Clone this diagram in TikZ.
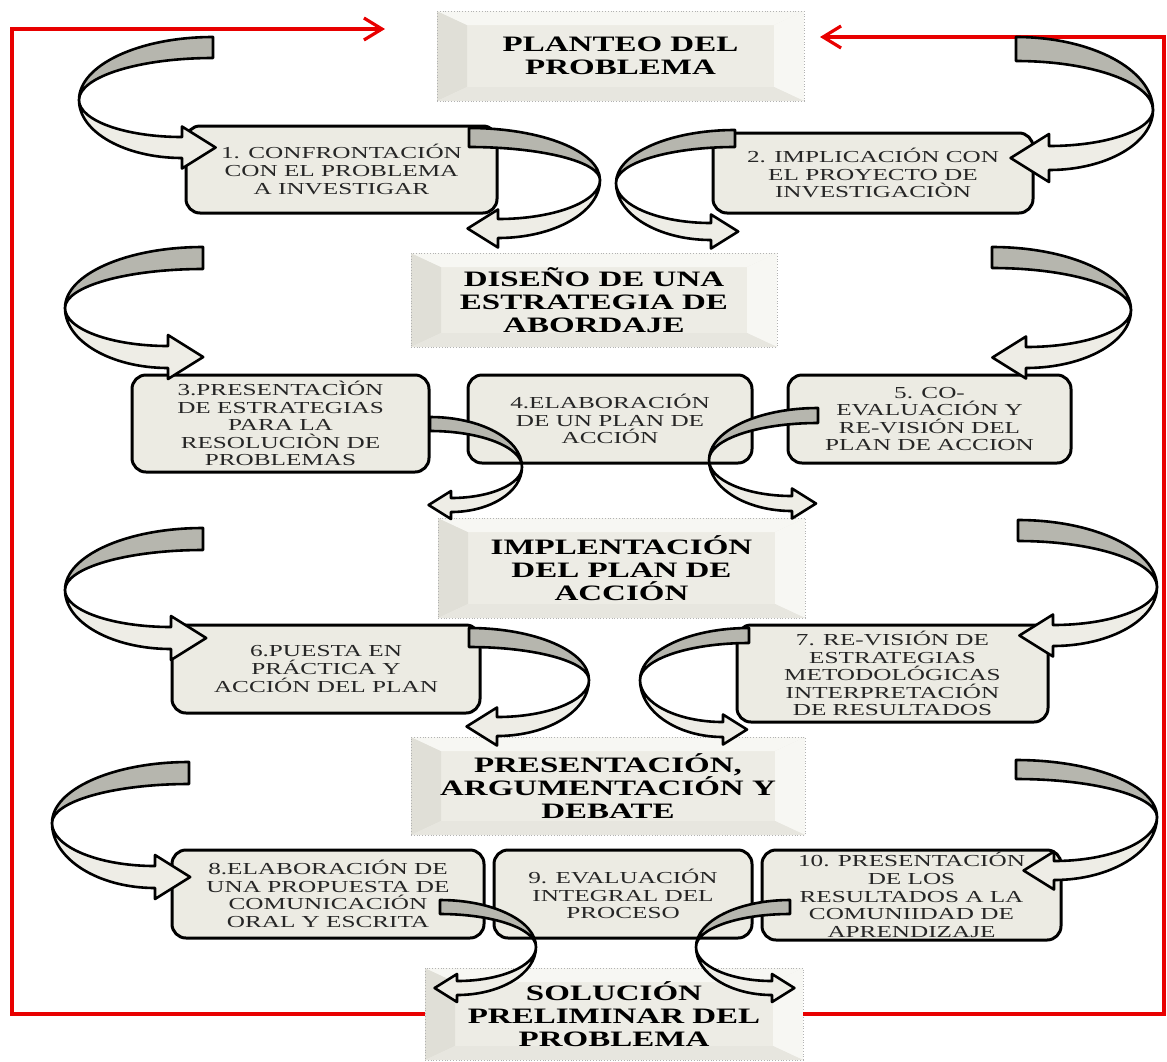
\documentclass[tikz,border=0pt]{standalone}
\usepackage{fontspec}
\setmainfont{Liberation Serif}[FakeStretch=1.5]
\usetikzlibrary{calc,arrows.meta}

\definecolor{boxfill}{RGB}{236,235,227}
\definecolor{ribgray}{RGB}{182,182,174}
\definecolor{ribpale}{RGB}{238,237,230}
\definecolor{hdrface}{RGB}{237,236,229}
\definecolor{bevdark}{RGB}{224,223,215}
\definecolor{bevlight}{RGB}{247,247,243}
\definecolor{bevmid}{RGB}{231,230,223}
\definecolor{fbred}{RGB}{232,0,0}

\tikzset{
  stage/.style={draw=black, line width=1.5pt, rounded corners=7pt, fill=boxfill, align=center,
    inner sep=1pt, text=black!85, font=\fontsize{8.4}{8.8}\selectfont},
  hdr/.style={draw=gray!60, densely dotted, thin, fill=hdrface, align=center, inner sep=1pt,
    font=\fontsize{11}{11.5}\selectfont\bfseries,
    path picture={
      \coordinate (bnw) at (path picture bounding box.north west);
      \coordinate (bne) at (path picture bounding box.north east);
      \coordinate (bsw) at (path picture bounding box.south west);
      \coordinate (bse) at (path picture bounding box.south east);
      \fill[bevdark] (bnw) -- (bsw) -- ($(bsw)+(30,-14)$) -- ($(bnw)+(30,14)$) -- cycle;
      \fill[bevlight] (bnw) -- (bne) -- ($(bne)+(-30,14)$) -- ($(bnw)+(30,14)$) -- cycle;
      \fill[bevlight] (bne) -- (bse) -- ($(bse)+(-30,-14)$) -- ($(bne)+(-30,14)$) -- cycle;
      \fill[bevmid] (bsw) -- (bse) -- ($(bse)+(-30,-14)$) -- ($(bsw)+(30,-14)$) -- cycle;}},
  ribback/.style={draw=black, line width=1.3pt, line join=round, fill=ribgray},
  ribfront/.style={draw=black, line width=1.3pt, line join=round, fill=ribpale},
  fb/.style={draw=fbred, line width=1.6pt, -{Straight Barb[length=9pt,width=11pt]}}
}

\newcommand{\ribbon}[8]{%
  \begin{scope}[shift={(#1,#2)},xscale=#3]
    \filldraw[ribback] (0,0) arc[start angle=180,end angle=270,x radius=#4,y radius=#5]
      -- ++(0,#6) arc[start angle=270,end angle=180,x radius=#4,y radius=#5-#6] -- cycle;
    \filldraw[ribfront] (0,0) arc[start angle=180,end angle=90,x radius=#7,y radius=#8]
      -- ++(0,{0.5*#6}) -- ({#7+1.6*#6},{#8-0.5*#6}) -- (#7,{#8-1.5*#6}) -- (#7,{#8-#6})
      arc[start angle=90,end angle=180,x radius=#7,y radius=#8-#6] -- cycle;
  \end{scope}}

\begin{document}
\begin{tikzpicture}[x=0.5pt,y=-0.5pt]
  \useasboundingbox (0,0) rectangle (1167,1061);

  \node[hdr, minimum width=183.5pt, minimum height=45pt] (plant) at (620.5,56) {PLANTEO DEL\\PROBLEMA};
  \node[hdr, minimum width=183pt, minimum height=47pt] (disen) at (594,300) {DISEÑO DE UNA\\ESTRATEGIA DE\\ABORDAJE};
  \node[hdr, minimum width=183.5pt, minimum height=50pt] (impl) at (621.5,568) {IMPLENTACIÓN\\DEL PLAN DE\\ACCIÓN};
  \node[hdr, minimum width=197pt, minimum height=49pt] (pres) at (608,786) {PRESENTACIÓN,\\ARGUMENTACIÓN Y\\DEBATE};
  \node[hdr, minimum width=189pt, minimum height=46pt] (sol) at (614,1014) {SOLUCIÓN\\PRELIMINAR DEL\\PROBLEMA};

  \node[stage, minimum width=155.5pt, minimum height=43.5pt] (s1) at (341.5,169.5) {1. CONFRONTACIÓN\\CON EL PROBLEMA\\A INVESTIGAR};
  \node[stage, minimum width=160pt, minimum height=40pt] (s2) at (873,173) {2. IMPLICACIÓN CON\\EL PROYECTO DE\\INVESTIGACIÒN};
  \node[stage, minimum width=148.5pt, minimum height=48.5pt] (s3) at (280.5,423.5) {3.PRESENTACÌÓN\\DE ESTRATEGIAS\\PARA LA\\RESOLUCIÒN DE\\PROBLEMAS};
  \node[stage, minimum width=142pt, minimum height=44pt] (s4) at (610,419) {4.ELABORACIÓN\\DE UN PLAN DE\\ACCIÓN};
  \node[stage, minimum width=141.5pt, minimum height=44pt] (s5) at (929.5,419) {5. CO-\\EVALUACIÓN Y\\RE-VISIÓN DEL\\PLAN DE ACCION};
  \node[stage, minimum width=154pt, minimum height=44pt] (s6) at (326,669) {6.PUESTA EN\\PRÁCTICA Y\\ACCIÓN DEL PLAN};
  \node[stage, minimum width=155.5pt, minimum height=48.5pt] (s7) at (892.5,673.5) {7. RE-VISIÓN DE\\ESTRATEGIAS\\METODOLÓGICAS\\INTERPRETACIÓN\\DE RESULTADOS};
  \node[stage, minimum width=156pt, minimum height=44pt] (s8) at (328,894) {8.ELABORACIÓN DE\\UNA PROPUESTA DE\\COMUNICACIÓN\\ORAL Y ESCRITA};
  \node[stage, minimum width=129pt, minimum height=44pt] (s9) at (623,894) {9. EVALUACIÓN\\INTEGRAL DEL\\PROCESO};
  \node[stage, minimum width=149.5pt, minimum height=45pt] (s10) at (911.5,895) {10. PRESENTACIÓN\\DE LOS\\RESULTADOS A LA\\COMUNIIDAD DE\\APRENDIZAJE};

  \coordinate (ltip) at (385,29);
  \coordinate (rtip) at (820,37);
  \draw[fb] (sol.west) -| (12,29) -- (ltip);
  \draw[fb] (sol.east) -| (1164,37) -- (rtip);

  \ribbon{79}{100}{1}{134}{63}{21}{103}{58}
  \ribbon{600}{180}{-1}{131}{52}{19}{102}{58}
  \ribbon{616}{183}{1}{119}{53}{17}{95}{57}
  \ribbon{1153}{110}{-1}{137}{73}{24}{104}{60}
  \ribbon{65}{308}{1}{138}{61}{22}{103}{60}
  \ribbon{522}{467}{-1}{92}{50}{14}{71}{45}
  \ribbon{1131}{310}{-1}{139}{63}{21}{105}{58}
  \ribbon{709}{460}{1}{109}{52}{15}{83}{51}
  \ribbon{65}{590}{1}{138}{62}{22}{106}{59}
  \ribbon{589}{680}{-1}{120}{52}{19}{92}{56}
  \ribbon{1157}{587}{-1}{139}{67}{21}{104}{59}
  \ribbon{640}{680}{1}{109}{52}{15}{83}{57}
  \ribbon{52}{823}{1}{137}{61}{22}{103}{65}
  \ribbon{536}{947}{-1}{96}{47}{14}{79}{48}
  \ribbon{1157}{817}{-1}{141}{57}{19}{103}{63}
  \ribbon{696}{947}{1}{94}{47}{14}{76}{48}
\end{tikzpicture}
\end{document}
